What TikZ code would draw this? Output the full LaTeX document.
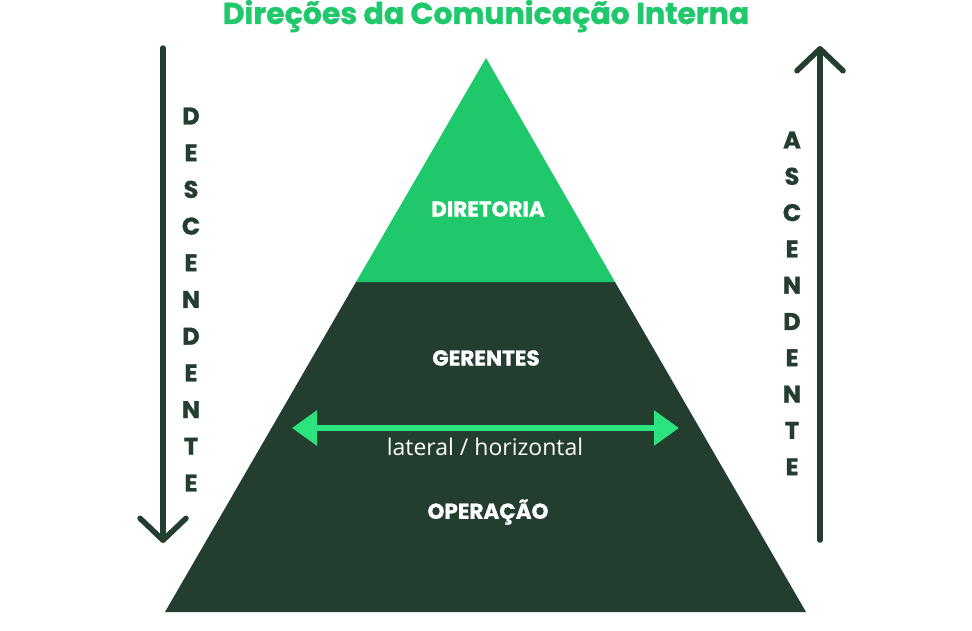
\documentclass[tikz,border=0pt]{standalone}
\usepackage{fontspec}
\setmainfont{Poppins}
\newfontfamily\heavyfont{Poppins}[BoldFeatures={FakeBold=1.2}]
\newfontfamily\labelfont{Open Sans}
\usetikzlibrary{arrows.meta,positioning}
\definecolor{darkgreen}{HTML}{233D2F}
\definecolor{topgreen}{HTML}{1FC86B}
\definecolor{arrowgreen}{HTML}{2CE47D}
\begin{document}
\begin{tikzpicture}[x=1pt,y=-1pt,
    level/.style={text=white,font=\heavyfont\bfseries\fontsize{21.5}{24}\selectfont},
    vletter/.style={text=darkgreen,font=\heavyfont\bfseries\fontsize{24}{26}\selectfont},
    flow/.style={draw=darkgreen,line width=5.5pt,line cap=round,
      -{Straight Barb[length=22pt,width=46pt,line width=5.5pt,round]}},
    sideways/.style={draw=arrowgreen,line width=6pt,
      {Triangle[length=25pt,width=34pt]}-{Triangle[length=25pt,width=34pt]}}]
   \useasboundingbox (0,0) rectangle (972,630);
   % pyramid
   \coordinate (apex) at (486,58);
   \coordinate (bl) at (165,612);
   \coordinate (br) at (806,612);
   \coordinate (ml) at (356,282);
   \coordinate (mr) at (615,282);
   \fill[darkgreen] (ml) -- (mr) -- (br) -- (bl) -- cycle;
   \fill[topgreen] (apex) -- (mr) -- (ml) -- cycle;
   \node[text=topgreen,font=\heavyfont\bfseries\fontsize{30}{33}\selectfont] (title) at (486,16) {Direções da Comunicação Interna};
   \node[level] (dir) at (488,209) {DIRETORIA};
   \node[level] (ger) at (486,358) {GERENTES};
   \node[level] (op) at (488,512) {OPERAÇÃO};
   % lateral
   \coordinate (latl) at (292,428);
   \coordinate (latr) at (679,428);
   \draw[sideways] (latl) -- (latr);
   \node[text=white,font=\labelfont\fontsize{23}{26}\selectfont] (lat) at (485,447) {lateral / horizontal};
   % vertical directions
   \coordinate (dtop) at (163,48);
   \coordinate (dbot) at (163,543);
   \coordinate (abot) at (820,540);
   \coordinate (atop) at (820,46);
   \draw[flow] (dtop) -- (dbot);
   \draw[flow] (abot) -- (atop);
   \foreach \ch [count=\i from 0] in {D,E,S,C,E,N,D,E,N,T,E}
     \node[vletter] (d\i) at (191,116+36.7*\i) {\ch};
   \foreach \ch [count=\i from 0] in {A,S,C,E,N,D,E,N,T,E}
     \node[vletter] (a\i) at (792,140+36.3*\i) {\ch};
\end{tikzpicture}
\end{document}
